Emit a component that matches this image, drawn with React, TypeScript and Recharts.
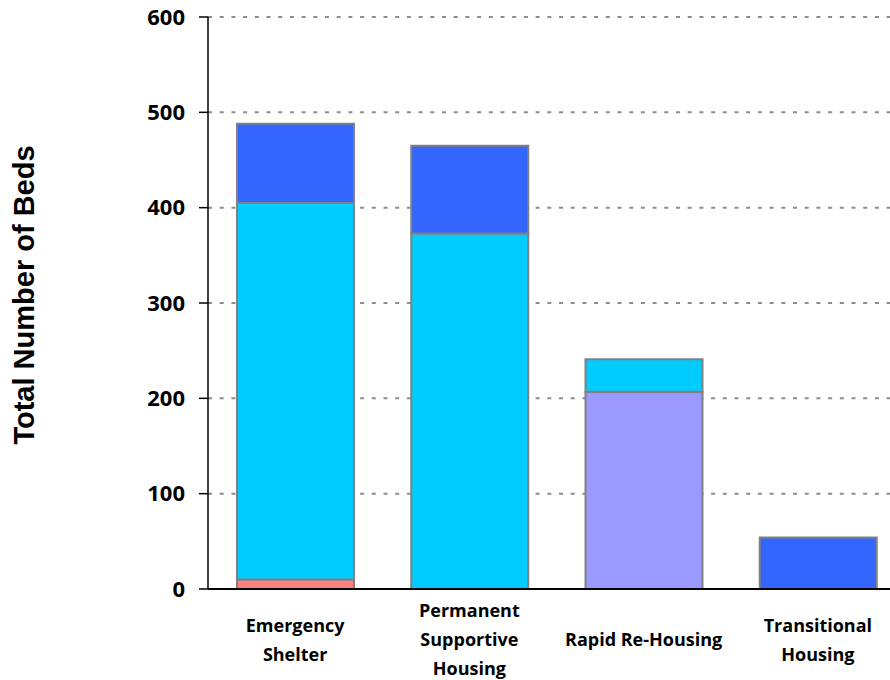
import { BarChart, Bar, XAxis, YAxis, CartesianGrid } from 'recharts';

// project types along the x axis, and how each label wraps
const categories = ['Emergency Shelter', 'Permanent Supportive Housing', 'Rapid Re-Housing', 'Transitional Housing'];
const categoryLines = [
  ['Emergency', 'Shelter'],
  ['Permanent', 'Supportive', 'Housing'],
  ['Rapid Re-Housing'],
  ['Transitional', 'Housing'],
];

// beds per segment, stacked bottom to top
const redBeds = [10, 0, 0, 0];
const lavenderBeds = [0, 0, 207, 0];
const cyanBeds = [395, 373, 34, 0];
const blueBeds = [83, 92, 0, 54];

const yTicks = [0, 100, 200, 300, 400, 500, 600];

const data = categories.map((name, i) => ({
  name,
  red: redBeds[i],
  lavender: lavenderBeds[i],
  cyan: cyanBeds[i],
  blue: blueBeds[i],
}));

const CategoryTick = (props: any) => {
  const { x, y, index } = props;
  const lines = categoryLines[index] || [];
  const lineHeight = 29;
  const firstBaseline = y + 57 - (lines.length - 1) * (lineHeight / 2);
  return (
    <text
      x={x}
      y={firstBaseline}
      textAnchor="middle"
      fill="#000"
      fontSize={18}
      fontWeight="bold"
      fontFamily="'Open Sans', sans-serif"
    >
      {lines.map((line: string, i: number) => (
        <tspan key={i} x={x} y={firstBaseline + i * lineHeight}>
          {line}
        </tspan>
      ))}
    </text>
  );
};

const AxisTitle = (props: any) => {
  const { viewBox } = props;
  const cx = 24;
  const cy = viewBox.y + viewBox.height / 2 - 8;
  return (
    <text
      x={cx}
      y={cy}
      transform={`rotate(-90, ${cx}, ${cy})`}
      textAnchor="middle"
      dominantBaseline="central"
      fontSize={29}
      fontWeight="bold"
      fontFamily="'Liberation Sans', Arial, sans-serif"
      fill="#000"
    >
      Total Number of Beds
    </text>
  );
};

export default function App() {
  return (
    <div style={{ position: 'absolute', left: 0, top: 0, width: 890, height: 680, overflow: 'hidden', background: '#fff' }}>
      <BarChart
        width={905}
        height={680}
        data={data}
        margin={{ top: 17, right: 0, left: 0, bottom: 0 }}
      >
        <CartesianGrid
          vertical={false}
          stroke="#8c8c8c"
          strokeWidth={2}
          strokeDasharray="4 7.7"
        />
        <XAxis
          dataKey="name"
          height={91}
          tickLine={false}
          tickSize={0}
          tickMargin={0}
          interval={0}
          axisLine={{ stroke: '#000', strokeWidth: 2 }}
          tick={<CategoryTick />}
        />
        <YAxis
          width={208}
          domain={[0, 600]}
          ticks={yTicks}
          interval={0}
          tickSize={9}
          tickMargin={14}
          axisLine={{ stroke: '#000', strokeWidth: 1.5 }}
          tickLine={{ stroke: '#000', strokeWidth: 1.5 }}
          tick={{ fill: '#000', fontSize: 22, fontWeight: 'bold', fontFamily: "'Open Sans', sans-serif" }}
          label={{ content: <AxisTitle /> }}
        />
        <Bar dataKey="red" stackId="beds" fill="#FF8080" stroke="#808080" strokeWidth={2} barSize={117} isAnimationActive={false} />
        <Bar dataKey="lavender" stackId="beds" fill="#9999FF" stroke="#808080" strokeWidth={2} barSize={117} isAnimationActive={false} />
        <Bar dataKey="cyan" stackId="beds" fill="#00CCFF" stroke="#808080" strokeWidth={2} barSize={117} isAnimationActive={false} />
        <Bar dataKey="blue" stackId="beds" fill="#3366FF" stroke="#808080" strokeWidth={2} barSize={117} isAnimationActive={false} />
      </BarChart>
    </div>
  );
}
